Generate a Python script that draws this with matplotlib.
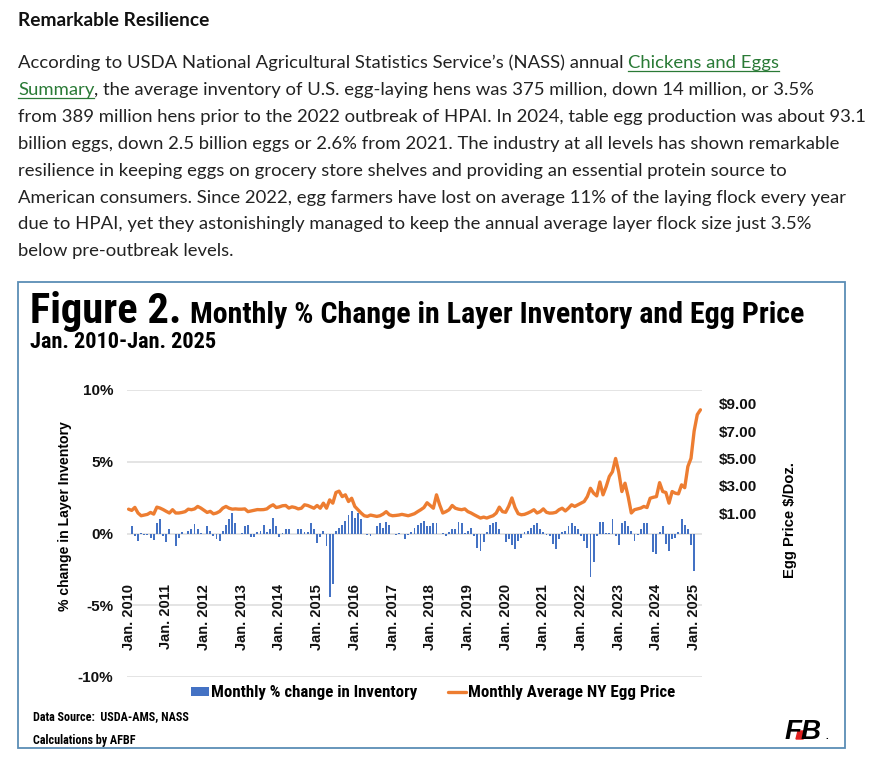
import matplotlib
matplotlib.use('Agg')
from matplotlib import pyplot as plt
from matplotlib import font_manager
from matplotlib.patches import Rectangle, Polygon
from matplotlib.lines import Line2D
import numpy as np

# %% Data

# monthly % change in layer inventory, Jan. 2010 - Jan. 2025
inv_2010 = [0.0, 0.5, -0.15, -0.5, 0.05, -0.1, -0.1, -0.3, -0.45, 0.7, 1.0, -0.2]
inv_2011 = [-0.6, 0.3, -0.05, -0.9, -0.3, 0.1, -0.05, 0.2, 0.3, 0.65, 0.3, 0.05]
inv_2012 = [-0.05, 0.5, 0.2, -0.2, -0.4, -0.5, 0.15, 0.6, 1.0, 1.4, 0.7, 0.0]
inv_2013 = [0.05, 0.5, 0.6, -0.25, -0.25, 0.1, 0.15, 0.6, 0.1, 0.3, 1.1, 0.5]
inv_2014 = [-0.25, 0.05, 0.3, 0.3, 0.0, -0.05, 0.3, 0.3, 0.1, 0.1, 0.7, 0.3]
inv_2015 = [-0.65, -0.25, 0.2, -0.9, -4.4, -3.5, 0.2, 0.4, 0.6, 0.9, 1.3, 1.55]
inv_2016 = [1.1, 1.4, 1.0, 0.0, -0.1, -0.15, -0.05, 0.5, 0.7, 0.4, 0.8, 0.6]
inv_2017 = [0.0, -0.1, 0.05, 0.0, -0.4, -0.1, 0.1, 0.4, 0.6, 0.7, 0.9, 0.5]
inv_2018 = [0.5, 0.7, 0.7, 0.0, 0.05, -0.15, 0.1, 0.3, 0.3, 0.8, 0.7, 0.05]
inv_2019 = [0.2, 0.4, -0.15, -1.0, -1.2, -0.6, 0.1, 0.6, 0.7, 0.8, 0.3, 0.0]
inv_2020 = [-0.6, -0.4, -0.8, -1.1, -0.5, -0.3, 0.1, 0.2, 0.4, 0.6, 0.7, 0.3]
inv_2021 = [0.1, -0.1, -0.2, -0.7, -1.1, -0.4, 0.1, 0.2, 0.5, 0.7, 0.5, 0.3]
inv_2022 = [-0.2, -0.5, -1.0, -3.0, -2.0, -0.2, 0.8, 0.8, 0.05, 0.05, 1.0, -0.2]
inv_2023 = [-0.8, 0.7, 0.9, 0.5, 0.2, -0.5, -0.1, 0.3, 0.7, 0.7, -0.05, -1.3]
inv_2024 = [-1.4, 0.1, 0.5, -0.7, -1.25, -0.4, -0.3, 0.1, 1.0, 0.6, 0.3, -0.8]
inv_2025 = [-2.6]

# monthly average NY egg price, $/doz.
px_2010 = [1.28, 1.19, 1.41, 1.0, 0.8, 0.85, 0.9, 1.04, 0.92, 1.43, 1.36, 1.25]
px_2011 = [1.12, 1.0, 1.24, 1.0, 1.0, 1.04, 1.1, 1.28, 1.24, 1.3, 1.48, 1.36]
px_2012 = [1.2, 1.04, 1.12, 0.94, 1.0, 1.12, 1.36, 1.48, 1.35, 1.28, 1.3, 1.28]
px_2013 = [1.28, 1.3, 1.1, 1.15, 1.2, 1.25, 1.24, 1.25, 1.3, 1.48, 1.6, 1.4]
px_2014 = [1.45, 1.53, 1.55, 1.36, 1.45, 1.4, 1.3, 1.35, 1.6, 1.55, 1.45, 1.35]
px_2015 = [1.55, 1.35, 1.72, 1.35, 1.96, 1.72, 2.5, 2.6, 2.2, 2.33, 1.84, 2.08]
px_2016 = [1.48, 1.24, 1.0, 0.8, 0.75, 0.85, 0.8, 0.75, 0.8, 0.92, 1.1, 0.87]
px_2017 = [0.8, 0.82, 0.85, 0.9, 0.85, 0.8, 0.87, 0.95, 1.1, 1.24, 1.4, 1.75]
px_2018 = [1.55, 1.35, 2.33, 1.6, 1.0, 1.1, 1.24, 1.55, 1.35, 1.28, 1.24, 1.3]
px_2019 = [1.1, 1.0, 0.87, 0.75, 0.63, 0.7, 0.63, 0.72, 0.8, 0.99, 1.43, 1.1]
px_2020 = [1.05, 1.5, 2.1, 1.4, 0.95, 0.87, 0.9, 0.99, 1.1, 1.24, 1.0, 1.1]
px_2021 = [1.3, 1.05, 0.99, 1.0, 1.05, 1.24, 1.35, 1.15, 1.35, 1.6, 1.48, 1.6]
px_2022 = [1.72, 1.84, 2.2, 2.81, 2.45, 2.25, 3.27, 2.33, 2.93, 3.67, 4.02, 4.99]
px_2023 = [4.0, 2.57, 3.18, 2.2, 1.0, 1.24, 1.3, 1.36, 1.48, 1.4, 2.08, 2.15]
px_2024 = [2.2, 3.22, 2.57, 2.5, 1.72, 2.57, 2.45, 2.4, 3.06, 2.85, 4.4, 5.0]
px_2025 = [7.0, 8.2, 8.55]

inv_change = (inv_2010 + inv_2011 + inv_2012 + inv_2013 + inv_2014 + inv_2015
              + inv_2016 + inv_2017 + inv_2018 + inv_2019 + inv_2020 + inv_2021
              + inv_2022 + inv_2023 + inv_2024 + inv_2025)
egg_price = (px_2010 + px_2011 + px_2012 + px_2013 + px_2014 + px_2015
             + px_2016 + px_2017 + px_2018 + px_2019 + px_2020 + px_2021
             + px_2022 + px_2023 + px_2024 + px_2025)

year_labels = ['Jan. %d' % y for y in range(2010, 2026)]
left_ticks = [-10, -5, 0, 5, 10]
left_labels = ['-10%', '-5%', '0%', '5%', '10%']
right_ticks = [1, 3, 5, 7, 9]
right_labels = ['$1.00', '$3.00', '$5.00', '$7.00', '$9.00']

# %% Fonts

names = {f.name for f in font_manager.fontManager.ttflist}
NARROW = 'Liberation Sans'
for cand in ['Liberation Sans Narrow', 'Roboto Condensed', 'DejaVu Sans Condensed',
             'Open Sans Condensed', 'Noto Sans Condensed']:
    if cand in names:
        NARROW = cand
        break
BODY = 'Lato' if 'Lato' in names else 'DejaVu Sans'
CHART = 'Liberation Sans'

W, H = 874, 763
fig = plt.figure(figsize=(W / 100, H / 100), dpi=100)
fig.patch.set_facecolor('white')
renderer = fig.canvas.get_renderer()


def fy(y):
    return 1 - y / H


def put(x, y, s, width=None, size=10, rot=0, **kw):
    # place text at pixel position, optionally scaled to a pixel length
    t = fig.text(x / W, fy(y), s, fontsize=size, rotation=rot, **kw)
    if width:
        bb = t.get_window_extent(renderer)
        span = bb.height if rot else bb.width
        t.set_fontsize(size * width / span)
    return t


def text_w(s, size, **kw):
    t = fig.text(0, 0, s + '|', fontsize=size, **kw)
    w1 = t.get_window_extent(renderer).width
    t.set_text('|')
    w2 = t.get_window_extent(renderer).width
    t.remove()
    return w1 - w2


# %% Article text

put(18, 26, 'Remarkable Resilience', width=193, family=BODY, fontweight='bold',
    color='#111111', va='baseline')

link = '#2a7a36'
l1a = 'According to USDA National Agricultural Statistics Service\u2019s (NASS) annual '
l1b = 'Chickens and Eggs'
l2a = 'Summary'
l2b = ', the average inventory of U.S. egg-laying hens was 375 million, down 14 million, or 3.5%'
rest = ['from 389 million hens prior to the 2022 outbreak of HPAI. In 2024, table egg production was about 93.1',
        'billion eggs, down 2.5 billion eggs or 2.6% from 2021. The industry at all levels has shown remarkable',
        'resilience in keeping eggs on grocery store shelves and providing an essential protein source to',
        'American consumers. Since 2022, egg farmers have lost on average 11% of the laying flock every year',
        'due to HPAI, yet they astonishingly managed to keep the annual average layer flock size just 3.5%',
        'below pre-outbreak levels.']

bs = 10 * 758 / text_w(l1a + l1b, 10, family=BODY)
base = 68
step = 26.9

w1 = text_w(l1a, bs, family=BODY)
put(18, base, l1a, size=bs, family=BODY, color='#222222', va='baseline')
put(18 + w1, base, l1b, size=bs, family=BODY, color=link, va='baseline')
wl = text_w(l1b, bs, family=BODY)
fig.add_artist(Line2D([(18 + w1) / W, (18 + w1 + wl) / W], [fy(base + 3)] * 2, color=link, lw=0.9))

w2 = text_w(l2a, bs, family=BODY)
put(18, base + step, l2a, size=bs, family=BODY, color=link, va='baseline')
fig.add_artist(Line2D([18 / W, (18 + w2) / W], [fy(base + step + 3)] * 2, color=link, lw=0.9))
put(18 + w2, base + step, l2b, size=bs, family=BODY, color='#222222', va='baseline')

for k, line in enumerate(rest):
    put(18, base + step * (k + 2), line, size=bs, family=BODY, color='#222222', va='baseline')

# %% Chart frame and titles

fig.add_artist(Rectangle((18 / W, fy(748)), (845 - 18) / W, (748 - 282) / H,
                         fill=False, edgecolor='#5b8db5', lw=1.3))

put(30, 323, 'Figure 2.', width=151, size=20, family=NARROW, fontweight='bold', va='baseline')
put(190, 323, 'Monthly % Change in Layer Inventory and Egg Price', width=615, size=16,
    family=NARROW, fontweight='bold', va='baseline')
put(30, 348, 'Jan. 2010-Jan. 2025', width=185, size=12, family=NARROW, fontweight='bold', va='baseline')

# %% Plot

ax = fig.add_axes([127 / W, fy(677), (702 - 127) / W, (677 - 390) / H])
x_inv = np.arange(len(inv_change))
x_px = np.arange(len(egg_price))
ax.bar(x_inv, inv_change, width=0.6, color='#4472C4', zorder=2,
       label='Monthly % change in Inventory')
ax.set_xlim(-0.5, len(egg_price) - 0.5)
ax.set_ylim(-10, 10)
ax.set_yticks(left_ticks, labels=left_labels, fontsize=11, fontweight='bold', family=CHART)
ax.set_xticks([])
ax.tick_params(axis='y', length=0, pad=10, colors='#111111')
ax.yaxis.grid(True, color='#dcdcdc', lw=1.1, zorder=0)
for s in ax.spines.values():
    s.set_visible(False)

for i, lab in zip(range(0, len(inv_change), 12), year_labels):
    ax.text(i, -3.5, lab, rotation=90, ha='center', va='top', fontsize=10.5,
            fontweight='bold', family=CHART, color='#111111')

ax2 = ax.twinx()
ax2.plot(x_px, egg_price, color='#ED7D31', lw=2.4, solid_capstyle='round',
         label='Monthly Average NY Egg Price')
ax2.set_ylim(-11, 10)
ax2.set_yticks(right_ticks, labels=right_labels, fontsize=11, fontweight='bold', family=CHART)
ax2.tick_params(axis='y', length=0, pad=12, colors='#111111')
for s in ax2.spines.values():
    s.set_visible(False)

put(65, 516, '% change in Layer Inventory', width=190, size=11, rot=90, family=CHART,
    fontweight='bold', ha='center', va='center')
put(790, 520, 'Egg Price $/Doz.', width=115, size=11, rot=90, family=CHART,
    fontweight='bold', ha='center', va='center')

# legend
leg_fs = 10 * 206 / text_w('Monthly % change in Inventory', 10, family=NARROW, fontweight='bold')
em = leg_fs * 100 / 72
h1, l1 = ax.get_legend_handles_labels()
h2, l2 = ax2.get_legend_handles_labels()
fig.legend(h1 + h2, l1 + l2, loc='center', bbox_to_anchor=(433 / W, fy(693)), ncol=2,
           frameon=False, prop={'family': NARROW, 'weight': 'bold', 'size': leg_fs},
           handlelength=18 / em, handletextpad=2 / em, columnspacing=30 / em,
           handleheight=0.5, borderpad=0)

src = put(33, 720, 'Data Source:  USDA-AMS, NASS', width=157, size=8, family=NARROW,
          fontweight='bold', va='baseline')
put(33, 744, 'Calculations by AFBF', size=src.get_fontsize(), family=NARROW,
    fontweight='bold', va='baseline')

# FB logo
put(785, 739, 'FB', size=20, family=CHART, fontweight='bold', style='italic', va='baseline')
put(825, 739, '.', size=7, family=CHART, fontweight='bold', va='baseline')
fig.add_artist(Polygon([(796 / W, fy(739)), (803 / W, fy(739)), (805 / W, fy(731)), (798 / W, fy(731))],
                       closed=True, color='#e02020'))

fig.savefig('out.png', dpi=100, facecolor='white')
